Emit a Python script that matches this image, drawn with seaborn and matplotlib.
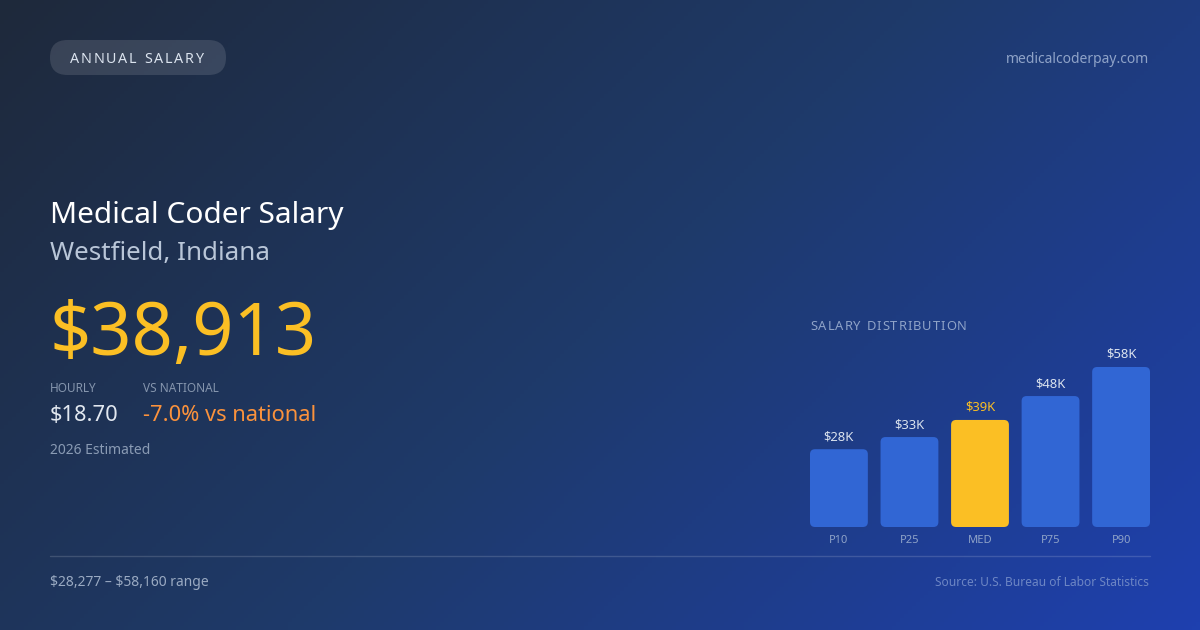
import numpy as np
import pandas as pd
import matplotlib
matplotlib.use("Agg")
import matplotlib.pyplot as plt
from matplotlib.patches import FancyBboxPatch
from matplotlib.colors import LinearSegmentedColormap
import seaborn as sns

# ---- data ----
categories = ["P10", "P25", "MED", "P75", "P90"]
values = [28277, 32700, 38913, 47600, 58160]
value_labels = ["$28K", "$33K", "$39K", "$48K", "$58K"]
highlight = "MED"

title = "Medical Coder Salary"
location = "Westfield, Indiana"
headline = "$38,913"
hourly = "$18.70"
vs_national = "-7.0% vs national"
range_text = "$28,277 \u2013 $58,160 range"

sns.set_theme(style="white")
plt.rcParams["font.family"] = ["Noto Sans", "DejaVu Sans"]
plt.rcParams["text.parse_math"] = False

W, H = 1200, 630
fig = plt.figure(figsize=(W / 100, H / 100), dpi=100)

# ---- background gradient ----
bg = fig.add_axes([0, 0, 1, 1])
bg.set_axis_off()
xx, yy = np.meshgrid(np.linspace(0, W, 300), np.linspace(0, H, 160))
t = (xx + yy) / (W + H)
cmap = LinearSegmentedColormap.from_list("bg", [(0, "#1e293b"), (0.5, "#1e3a6a"), (1, "#1e40af")])
bg.imshow(t, cmap=cmap, extent=[0, W, H, 0], aspect="auto", vmin=0, vmax=1)
bg.set_xlim(0, W)
bg.set_ylim(H, 0)


def fx(x):
    return x / W


def fy(y):
    return 1 - y / H


def tracked(x, y, s, size, color, spacing, weight="normal", ha="left"):
    """Draw letter-spaced text at pixel coords (baseline)."""
    r = fig.canvas.get_renderer()
    widths = []
    for ch in s:
        tt = fig.text(0, 0, ch if ch != " " else "n", fontsize=size, weight=weight)
        bb = tt.get_window_extent(renderer=r)
        widths.append(bb.width if ch != " " else bb.width * 0.45)
        tt.remove()
    total = sum(widths) + spacing * (len(s) - 1)
    cx = x if ha == "left" else x - total
    for ch, w in zip(s, widths):
        if ch != " ":
            fig.text(fx(cx), fy(y), ch, fontsize=size, color=color, weight=weight, va="baseline", ha="left")
        cx += w + spacing


# ---- badge ----
pill = FancyBboxPatch((50 + 17.5, 40 + 17.5), 176 - 35, 0.01, boxstyle="round,pad=17.5",
                      transform=bg.transData, facecolor="white", alpha=0.12, edgecolor="none")
bg.add_patch(pill)
tracked(70, 63, "ANNUAL SALARY", 10.3, "#dbe3ee", 1.75)

fig.text(fx(1149), fy(63), "medicalcoderpay.com", fontsize=10, color="#8fa3c8", ha="right", va="baseline")

# ---- left text block ----
fig.text(fx(50), fy(223), title, fontsize=21.5, color="#ffffff", va="baseline")
fig.text(fx(50), fy(260), location, fontsize=18.7, color="#b9c6d8", va="baseline")
fig.text(fx(50), fy(355), headline, fontsize=52, color="#fbbf24", va="baseline")
fig.text(fx(50), fy(392), "HOURLY", fontsize=8.5, color="#8595ad", va="baseline")
fig.text(fx(143), fy(392), "VS NATIONAL", fontsize=8.5, color="#8595ad", va="baseline")
fig.text(fx(50), fy(421), hourly, fontsize=15.7, color="#e2e8f0", va="baseline")
fig.text(fx(143), fy(421), vs_national, fontsize=15.7, color="#fb923c", va="baseline")
fig.text(fx(50), fy(454), "2026 Estimated", fontsize=10, color="#8a9bb4", va="baseline")

# ---- bar chart ----
tracked(810, 330, "SALARY DISTRIBUTION", 9.3, "#8fa3c8", 1.0)

bar_bottom, bar_top = 527, 367
ax = fig.add_axes([fx(810), fy(bar_bottom), (1150 - 810) / W, (bar_bottom - bar_top) / H])
ax.set_facecolor("none")
df = pd.DataFrame({"cat": categories, "val": values})
palette = {c: ("#fbbf24" if c == highlight else "#3166d4") for c in categories}
sns.barplot(data=df, x="cat", y="val", hue="cat", palette=palette, width=0.82,
            legend=False, ax=ax, saturation=1)
ax.set_xlim(-0.41, len(categories) - 1 + 0.41)
ax.set_ylim(0, max(values))
ax.set_axis_off()

# round the bar corners
px_x = (len(categories) - 1 + 0.82) / (1150 - 810)   # data units per px (x)
px_y = max(values) / (bar_bottom - bar_top)           # data units per px (y)
aspect = px_y / px_x
rad = 5 * px_x
for p in list(ax.patches):
    x0, y0, w, h = p.get_x(), p.get_y(), p.get_width(), p.get_height()
    fc = p.get_facecolor()
    p.remove()
    ax.add_patch(FancyBboxPatch((x0 + rad, y0 + rad * aspect), w - 2 * rad, h - 2 * rad * aspect,
                                boxstyle=f"round,pad={rad},rounding_size={rad}",
                                mutation_aspect=aspect, facecolor=fc, edgecolor="none",
                                transform=ax.transData, clip_on=False))

for i, (c, v, lab) in enumerate(zip(categories, values, value_labels)):
    ax.annotate(lab, (i, v), xytext=(0, 9), textcoords="offset pixels", ha="center", va="baseline",
                fontsize=9.4, color="#fbbf24" if c == highlight else "#dbe3ee", annotation_clip=False)
    ax.annotate(c, (i, 0), xytext=(0, -16), textcoords="offset pixels", ha="center", va="baseline",
                fontsize=8, color="#8fa3c8", annotation_clip=False)

# ---- footer ----
bg.plot([50, 1150], [556, 556], color="white", alpha=0.15, lw=1)
fig.text(fx(50), fy(586), range_text, fontsize=10, color="#9aaac2", va="baseline")
fig.text(fx(1149), fy(586), "Source: U.S. Bureau of Labor Statistics", fontsize=8.6, color="#6d86c4",
         ha="right", va="baseline")

fig.savefig("out.png", dpi=100)
